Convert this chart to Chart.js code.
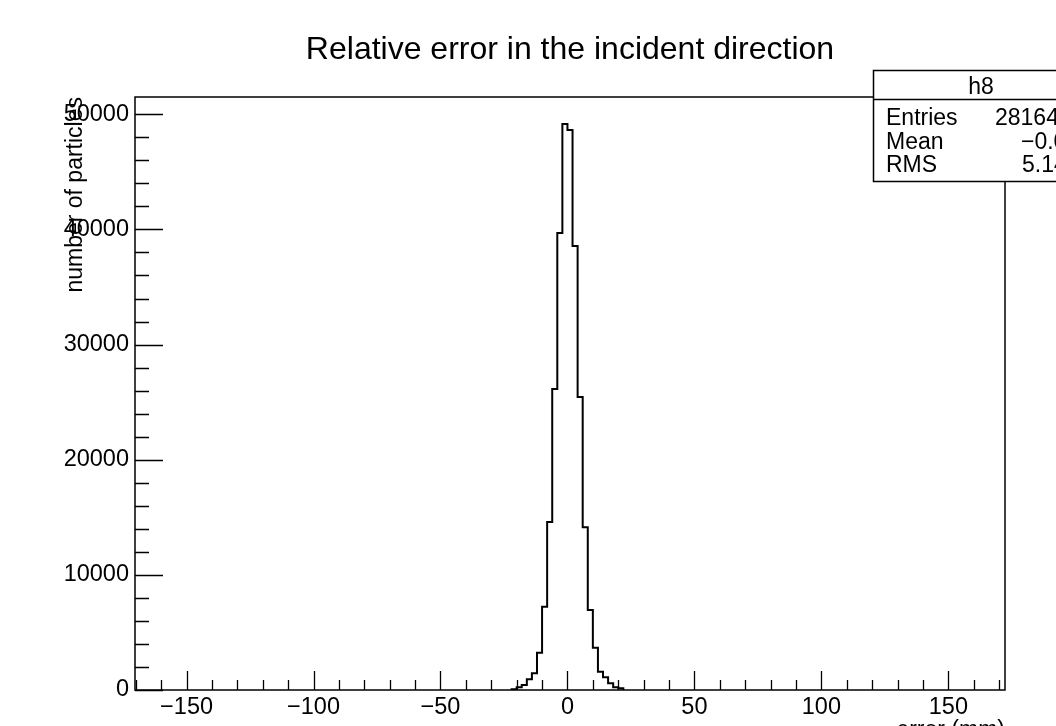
<!DOCTYPE html>
<html>
<head>
<meta charset="utf-8">
<script src="https://cdn.jsdelivr.net/npm/chart.js@4/dist/chart.umd.min.js"></script>
<style>
  html, body { margin: 0; padding: 0; background: #fff; }
  #wrap { width: 1056px; height: 726px; position: relative; }
</style>
</head>
<body>
<div id="wrap"><canvas id="c" width="1056" height="726"></canvas></div>
<script>
// ---- data ----
const chartTitle = 'Relative error in the incident direction';
const xTitle = 'error (mm)';
const yTitle = 'number of particles';
const binWidth = 2;
const binLowEdges = [-22, -20, -18, -16, -14, -12, -10, -8, -6, -4, -2, 0, 2, 4, 6, 8, 10, 12, 14, 16, 18, 20];
const counts = [60, 235, 434, 930, 1450, 3240, 7235, 14590, 26140, 39690, 49157, 48636, 38560, 25450, 14130, 6950, 3675, 1590, 1100, 580, 235, 150];
const xRange = [-170.3, 172.3];
const yRange = [0, 51500];
const xTickValues = [-150, -100, -50, 0, 50, 100, 150];
const yTickValues = [0, 10000, 20000, 30000, 40000, 50000];
const xMinorStep = 10;
const yMinorStep = 2000;
const statsName = 'h8';
const statsLabels = ['Entries', 'Mean', 'RMS'];
const statsValues = ['281644', '\u22120.05713', '5.1447'];

const FONT = "'Liberation Sans', Arial, Helvetica, sans-serif";
Chart.defaults.color = '#000';
Chart.defaults.font.family = FONT;

// histogram outline points
const pts = [{x: binLowEdges[0], y: 0}];
binLowEdges.forEach((e, i) => pts.push({x: e, y: counts[i]}));
pts.push({x: binLowEdges[binLowEdges.length - 1] + binWidth, y: 0});

const fmt = v => (v < 0 ? '\u2212' + Math.abs(v) : String(v));

const rootPlugin = {
  id: 'rootFrame',
  afterDraw(chart) {
    const {ctx, chartArea: a, scales: {x: xs, y: ys}} = chart;
    ctx.save();
    ctx.strokeStyle = '#000';
    ctx.lineWidth = 1.5;
    ctx.strokeRect(a.left, a.top, a.right - a.left, a.bottom - a.top);
    ctx.lineWidth = 1.3;
    ctx.beginPath();
    for (let v = Math.ceil(xs.min / xMinorStep) * xMinorStep; v <= xs.max; v += xMinorStep) {
      const px = Math.round(xs.getPixelForValue(v)) + 0.5;
      const len = xTickValues.includes(v) ? 19 : 10;
      ctx.moveTo(px, a.bottom);
      ctx.lineTo(px, a.bottom - len);
    }
    for (let v = 0; v <= ys.max; v += yMinorStep) {
      const py = Math.round(ys.getPixelForValue(v)) + 0.5;
      const len = yTickValues.includes(v) ? 28 : 14;
      ctx.moveTo(a.left, py);
      ctx.lineTo(a.left + len, py);
    }
    ctx.stroke();

    // stats box
    const bx = 873.5, by = 70.5, bw = 230, bh = 111;
    ctx.fillStyle = '#fff';
    ctx.fillRect(bx, by, bw, bh);
    ctx.lineWidth = 1.5;
    ctx.strokeRect(bx, by, bw, bh);
    ctx.beginPath();
    ctx.moveTo(bx, 99.5);
    ctx.lineTo(bx + bw, 99.5);
    ctx.stroke();
    ctx.fillStyle = '#000';
    ctx.font = '23px ' + FONT;
    ctx.textBaseline = 'middle';
    ctx.textAlign = 'center';
    ctx.fillText(statsName, 981, 88);
    ctx.textAlign = 'left';
    const rowsY = [119, 143, 166];
    const valX = [995, 1021, 1022];
    statsLabels.forEach((l, i) => {
      ctx.fillText(l, 886, rowsY[i]);
      ctx.fillText(statsValues[i], valX[i], rowsY[i]);
    });
    ctx.restore();
  }
};

new Chart(document.getElementById('c'), {
  type: 'line',
  data: {
    datasets: [{
      data: pts,
      stepped: true,
      borderColor: '#000',
      borderWidth: 2,
      pointRadius: 0,
      fill: false,
      tension: 0
    }]
  },
  options: {
    responsive: false,
    animation: false,
    devicePixelRatio: 1,
    layout: { padding: { left: 0, right: 51, top: 0, bottom: 0 } },
    plugins: {
      legend: { display: false },
      tooltip: { enabled: false },
      title: {
        display: true,
        text: chartTitle,
        fullSize: false,
        font: { size: 32, weight: 'normal', family: FONT },
        padding: { top: 31, bottom: 27.6 },
        color: '#000'
      }
    },
    scales: {
      x: {
        type: 'linear',
        min: xRange[0],
        max: xRange[1],
        grid: { display: false, drawTicks: false },
        border: { display: false },
        afterBuildTicks: s => { s.ticks = xTickValues.map(v => ({value: v})); },
        ticks: {
          autoSkip: false,
          maxRotation: 0,
          padding: 3,
          font: { size: 23.5 },
          callback: v => fmt(v)
        },
        title: {
          display: true,
          text: xTitle,
          align: 'end',
          font: { size: 23 },
          padding: { top: 0, bottom: -18 }
        },
        afterFit: s => { s.height = 36; }
      },
      y: {
        type: 'linear',
        min: yRange[0],
        max: yRange[1],
        grid: { display: false, drawTicks: false },
        border: { display: false },
        afterBuildTicks: s => { s.ticks = yTickValues.map(v => ({value: v})); },
        ticks: {
          padding: 6,
          font: { size: 23.5 },
          callback: v => fmt(v)
        },
        title: {
          display: true,
          text: yTitle,
          align: 'end',
          font: { size: 23 },
          padding: { top: 62, bottom: 0 }
        },
        afterFit: s => { s.width = 135; }
      }
    }
  },
  plugins: [rootPlugin]
});
</script>
</body>
</html>
